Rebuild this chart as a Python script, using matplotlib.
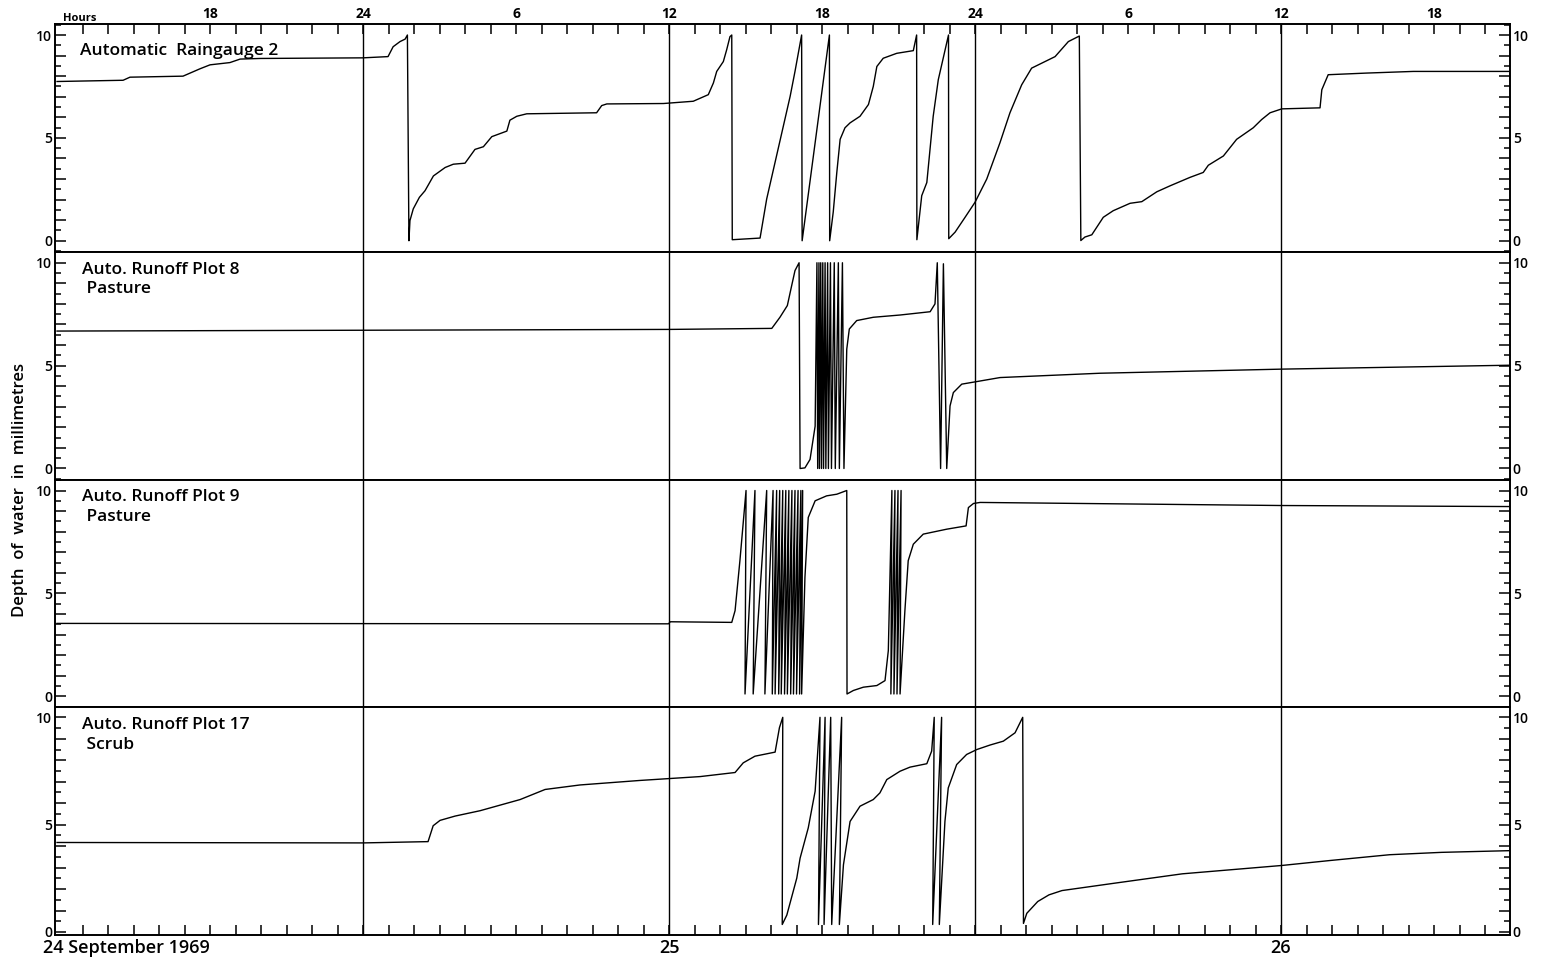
import matplotlib
matplotlib.use("Agg")
import matplotlib.pyplot as plt
from matplotlib.ticker import FixedLocator, MultipleLocator, FuncFormatter

# ---------------- data (time in hours from 00:00, 24 September 1969; depth in mm) ----------------
rain_t = [12.0, 14.59, 14.86, 16.94, 17.61, 18.00, 18.78, 19.18, 19.96, 24.00, 24.98, 25.18, 25.45,
          25.65, 25.74, 25.80, 25.84, 25.97, 26.21, 26.43, 26.76, 27.22, 27.54, 28.00, 28.39, 28.72,
          29.05, 29.64, 29.76, 30.03, 30.42, 33.16, 33.36, 33.56, 35.78, 36.95, 37.54, 37.74, 37.87,
          38.13, 38.26, 38.39, 38.46, 38.48, 39.57, 39.83, 40.75, 40.94, 41.20, 41.22, 42.29, 42.30,
          42.44, 42.58, 42.71, 42.90, 43.10, 43.49, 43.82, 44.01, 44.15, 44.40, 44.93, 45.58, 45.71,
          45.72, 45.91, 46.11, 46.36, 46.56, 46.96, 46.97, 47.22, 47.61, 48.00, 48.46, 48.98, 49.37,
          49.83, 50.22, 51.14, 51.66, 52.09, 52.15, 52.31, 52.58, 53.03, 53.42, 54.08, 54.54, 55.13,
          55.65, 56.43, 56.95, 57.15, 57.74, 58.26, 58.91, 59.24, 59.57, 60.03, 61.53, 61.60, 61.85,
          63.36, 65.19, 69.0]
rain_mm = [7.74, 7.80, 7.95, 8.00, 8.36, 8.55, 8.66, 8.83, 8.86, 8.89, 8.95, 9.43, 9.68,
           9.80, 10.0, 0.0, 0.98, 1.55, 2.11, 2.43, 3.15, 3.56, 3.72, 3.77, 4.44, 4.57,
           5.06, 5.33, 5.86, 6.05, 6.17, 6.22, 6.57, 6.65, 6.67, 6.78, 7.10, 7.67, 8.23,
           8.71, 9.28, 9.92, 10.0, 0.05, 0.13, 2.03, 7.02, 8.23, 10.0, 0.0, 10.0, 0.0,
           1.40, 3.32, 4.93, 5.49, 5.73, 6.05, 6.62, 7.50, 8.47, 8.87, 9.11, 9.24, 10.0,
           0.05, 2.19, 2.83, 6.05, 7.83, 10.0, 0.10, 0.42, 1.14, 1.87, 3.00, 4.77, 6.22,
           7.58, 8.39, 8.95, 9.68, 9.95, 0.01, 0.18, 0.29, 1.14, 1.46, 1.82, 1.90, 2.38,
           2.67, 3.08, 3.32, 3.67, 4.12, 4.93, 5.49, 5.89, 6.22, 6.41, 6.46, 7.34, 8.07,
           8.15, 8.23, 8.23]

plot8_t = [12.0, 24.0, 36.0, 40.03, 40.35, 40.64, 40.81, 40.94, 41.10, 41.14, 41.33, 41.53, 41.73,
           41.80, 41.83, 41.88, 41.90, 41.95, 41.98, 42.03, 42.06, 42.12, 42.15, 42.22, 42.25,
           42.33, 42.37, 42.48, 42.52, 42.64, 42.68, 42.80, 42.86, 42.97, 43.07, 43.36, 44.01,
           45.06, 46.24, 46.43, 46.52, 46.65, 46.76, 46.89, 47.02, 47.15, 47.48, 48.00, 48.98,
           52.90, 60.04, 69.0]
plot8_mm = [6.68, 6.72, 6.76, 6.81, 7.35, 7.92, 8.89, 9.62, 10.0, 0.0, 0.03, 0.44, 2.06,
            10.0, 0.0, 10.0, 0.0, 10.0, 0.0, 10.0, 0.0, 10.0, 0.0, 10.0, 0.0,
            10.0, 0.0, 10.0, 0.0, 10.0, 0.0, 10.0, 0.0, 5.80, 6.78, 7.19, 7.35,
            7.46, 7.62, 8.00, 10.0, 0.0, 9.95, 0.0, 3.04, 3.69, 4.10, 4.21, 4.42,
            4.63, 4.83, 5.02]

plot9_t = [12.0, 35.98, 36.05, 38.46, 38.59, 38.78, 39.02, 38.98, 39.37, 39.30, 39.83, 39.76,
           40.08, 40.05, 40.22, 40.16, 40.34, 40.30, 40.46, 40.40, 40.58, 40.53, 40.70, 40.64,
           40.82, 40.77, 40.94, 40.88, 41.06, 41.00, 41.17, 41.12, 41.24, 41.20, 41.33, 41.46,
           41.73, 42.18, 42.58, 42.97, 42.98, 43.23, 43.62, 44.15, 44.47, 44.60, 44.74, 44.70,
           44.86, 44.82, 44.98, 44.94, 45.10, 45.06, 45.25, 45.38, 45.58, 45.97, 46.89, 47.65,
           47.74, 47.94, 48.20, 60.04, 69.0]
plot9_mm = [3.54, 3.52, 3.62, 3.59, 4.16, 6.59, 10.0, 0.11, 10.0, 0.11, 10.0, 0.11,
            10.0, 0.11, 10.0, 0.11, 10.0, 0.11, 10.0, 0.11, 10.0, 0.11, 10.0, 0.11,
            10.0, 0.11, 10.0, 0.11, 10.0, 0.11, 10.0, 0.11, 10.0, 0.11, 5.78, 8.69,
            9.50, 9.74, 9.82, 10.0, 0.11, 0.28, 0.44, 0.52, 0.76, 2.22, 10.0, 0.11,
            10.0, 0.11, 10.0, 0.11, 10.0, 0.11, 4.16, 6.59, 7.39, 7.88, 8.12, 8.28,
            9.17, 9.37, 9.42, 9.27, 9.22]

plot17_t = [12.0, 24.0, 26.55, 26.75, 27.02, 27.61, 28.59, 30.16, 31.14, 32.51, 34.86, 37.22, 38.59,
            38.91, 39.37, 40.16, 40.33, 40.46, 40.44, 40.62, 41.01, 41.14, 41.46, 41.73, 41.92,
            41.86, 42.12, 42.08, 42.34, 42.38, 42.77, 42.68, 42.84, 43.10, 43.49, 44.01, 44.27,
            44.54, 45.06, 45.45, 46.11, 46.30, 46.40, 46.34, 46.69, 46.60, 46.82, 46.95, 47.28,
            47.67, 48.07, 48.59, 49.11, 49.57, 49.87, 49.90, 50.03, 50.46, 50.90, 51.41, 53.51,
            56.13, 60.04, 61.92, 64.26, 66.29, 69.0]
plot17_mm = [4.17, 4.15, 4.21, 4.95, 5.20, 5.40, 5.65, 6.17, 6.64, 6.85, 7.06, 7.24, 7.43,
             7.88, 8.19, 8.38, 9.52, 10.0, 0.35, 0.79, 2.51, 3.44, 4.85, 6.56, 10.0,
             0.35, 10.0, 0.35, 10.0, 0.35, 10.0, 0.35, 3.13, 5.15, 5.86, 6.17, 6.48,
             7.10, 7.49, 7.68, 7.84, 8.43, 10.0, 0.35, 10.0, 0.35, 5.15, 6.71, 7.80,
             8.27, 8.50, 8.71, 8.89, 9.28, 10.0, 0.40, 0.87, 1.42, 1.73, 1.93, 2.28,
             2.71, 3.10, 3.33, 3.60, 3.71, 3.79]

panel_titles = ["Automatic  Raingauge 2", "Auto. Runoff Plot 8\n Pasture",
                "Auto. Runoff Plot 9\n Pasture", "Auto. Runoff Plot 17\n Scrub"]
hour_ticks = [18, 24, 30, 36, 42, 48, 54, 60, 66]
hour_labels = ["18", "24", "6", "12", "18", "24", "6", "12", "18"]
day_lines = [24, 36, 48, 60]
date_pos = [36, 60]
date_labels = ["25", "26"]
y_labels = [0, 5, 10]

# ---------------- figure ----------------
FONT = "Open Sans"
plt.rcParams["font.family"] = [FONT, "DejaVu Sans"]
W, H = 1542, 960
fig = plt.figure(figsize=(W / 100, H / 100), dpi=100)

left_px, right_px = 55, 1510
top_px, bot_px = 24, 935
ph = (bot_px - top_px) / 4.0
series = [(rain_t, rain_mm), (plot8_t, plot8_mm), (plot9_t, plot9_mm), (plot17_t, plot17_mm)]
ylims = [(-0.535, 10.535), (-0.535, 10.535), (-0.535, 10.535), (-0.14, 10.47)]
title_x = [12.9, 12.98, 12.98, 12.98]
title_y = [9.6, 10.05, 10.05, 10.0]

axes = []
for i in range(4):
    y_top = top_px + i * ph
    ax = fig.add_axes([left_px / W, 1 - (y_top + ph) / H, (right_px - left_px) / W, ph / H])
    t, v = series[i]
    ax.plot(t, v, color="black", lw=1.0, solid_joinstyle="round")
    for d in day_lines:
        ax.axvline(d, color="black", lw=1.0)
    ax.set_xlim(11.92, 68.98)
    ax.set_ylim(*ylims[i])
    for s in ax.spines.values():
        s.set_linewidth(1.4)
    # y ticks
    ax.yaxis.set_major_locator(MultipleLocator(1))
    ax.yaxis.set_minor_locator(MultipleLocator(0.5))
    ax.yaxis.set_major_formatter(FuncFormatter(
        lambda y, p: f"{int(round(y))}" if int(round(y)) in y_labels and abs(y - round(y)) < 1e-6 else ""))
    ax.tick_params(axis="y", which="major", direction="in", length=8, width=1.1, left=True, right=True,
                   labelleft=True, labelright=True, labelsize=10, pad=2)
    ax.tick_params(axis="y", which="minor", direction="in", length=4.5, width=1.1, left=True, right=True)
    for lab in ax.get_yticklabels():
        lab.set_fontweight("semibold")
    # x ticks
    ax.xaxis.set_major_locator(FixedLocator(hour_ticks))
    ax.xaxis.set_minor_locator(FixedLocator(list(range(13, 69))))
    if i == 0:
        ax.xaxis.tick_top()
        ax.set_xticklabels(hour_labels, fontsize=10, fontweight="bold")
        ax.tick_params(axis="x", which="both", direction="in", length=7.5, width=1.1,
                       top=True, bottom=False, pad=2)
        ax.text(12.9, 1.0, "Hours", transform=ax.get_xaxis_transform(), ha="center", va="bottom",
                fontsize=8, fontweight="bold")
    elif i == 3:
        ax.tick_params(axis="x", which="both", direction="in", length=7.5, width=1.1,
                       top=False, bottom=True, labelbottom=False)
        for p, lab in zip(date_pos, date_labels):
            ax.text(p, -0.018, lab, transform=ax.get_xaxis_transform(), ha="center", va="top",
                    fontsize=13, fontweight="semibold")
        ax.text(11.45, -0.018, "24 September 1969", transform=ax.get_xaxis_transform(), ha="left",
                va="top", fontsize=13, fontweight="semibold")
    else:
        ax.tick_params(axis="x", which="both", top=False, bottom=False, labelbottom=False, labeltop=False)
    # panel title
    ax.text(title_x[i], title_y[i], panel_titles[i], ha="left", va="top",
            fontsize=12.5, fontweight="semibold", linespacing=1.3)
    axes.append(ax)

fig.text(20 / W, 1 - 490 / H, "Depth  of  water  in  millimetres", rotation=90, ha="center", va="center",
         fontsize=12, fontweight="semibold")

fig.savefig("out.png", dpi=100)
